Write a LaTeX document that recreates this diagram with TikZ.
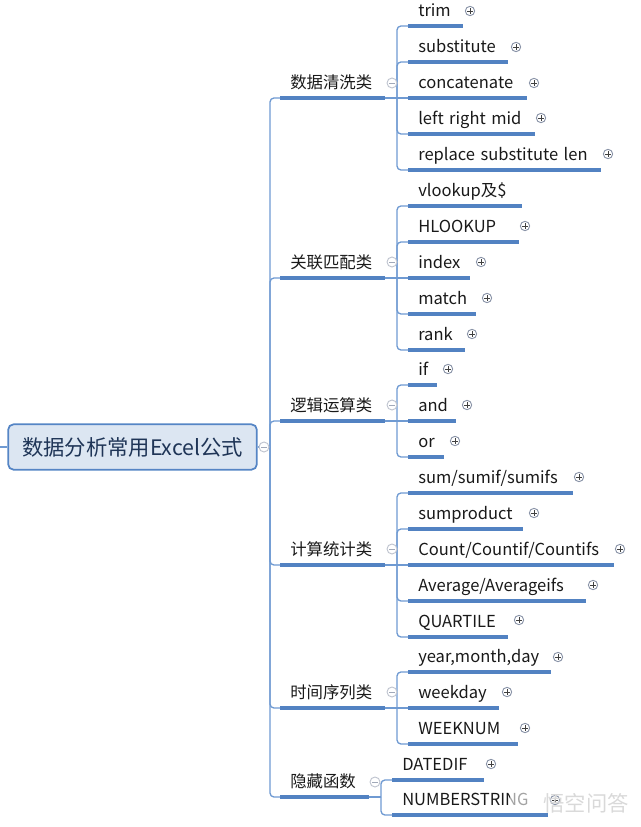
\documentclass[tikz,border=0pt]{standalone}
\usepackage{fontspec}
\setmainfont{Noto Sans CJK SC}
\definecolor{linkblue}{HTML}{6F9AD2}
\definecolor{barblue}{HTML}{5282C2}
\definecolor{rootfill}{HTML}{DCE6F2}
\definecolor{rootline}{HTML}{5585C5}
\definecolor{roottext}{HTML}{1F3557}
\definecolor{iconline}{HTML}{8A94A8}
\tikzset{
	link/.style={draw=linkblue, line width=1pt, rounded corners=3pt},
	bar/.style={draw=barblue, line width=2.4pt},
	root/.style={rectangle, rounded corners=4pt, draw=rootline, line width=1.3pt, fill=rootfill, text=roottext, font=\fontsize{16}{18}\selectfont, minimum width=186.5pt, minimum height=34pt, inner sep=0pt},
	under/.style={anchor=south west, inner xsep=0pt, inner ysep=0pt, text depth=7.2pt, text height=11pt, align=left, text=black!90, execute at begin node={\hspace*{7.5pt}}, append after command={(\tikzlastnode.south west) edge[bar] (\tikzlastnode.south east)}},
	leaf/.style={under, text width=#1*0.75pt, font=\fontsize{12.4}{14}\selectfont},
	cat/.style={under, text width=#1*0.75pt, font=\fontsize{12.3}{14}\selectfont},
	plus/.style={circle, draw=iconline, line width=0.7pt, fill=white, inner sep=0pt, minimum size=7pt, path picture={\draw [black!75, line width=0.5pt] ([xshift=-2pt]path picture bounding box.center) -- ([xshift=2pt]path picture bounding box.center) ([yshift=-2pt]path picture bounding box.center) -- ([yshift=2pt]path picture bounding box.center);}},
	minus/.style={circle, draw=iconline!55, line width=0.7pt, fill=white, inner sep=0pt, minimum size=7.5pt, path picture={\draw [iconline!80, line width=0.5pt] ([xshift=-2pt]path picture bounding box.center) -- ([xshift=2pt]path picture bounding box.center);}}
}
\begin{document}
\begin{tikzpicture}[x=0.75pt, y=-0.75pt]
	\useasboundingbox (0,0) rectangle (640,827);
	% centre
	\node at (132.5,447) [root] (r0) {数据分析常用Excel公式};
	\coordinate (stub) at (0,447);
	\coordinate (trunk) at (270,447);
	% first level
	\node at (280,98) [cat=104] (c1) {数据清洗类};
	\node at (280,278) [cat=104] (c2) {关联匹配类};
	\node at (280,421) [cat=104] (c3) {逻辑运算类};
	\node at (280,565) [cat=104] (c4) {计算统计类};
	\node at (280,708) [cat=104] (c5) {时间序列类};
	\node at (280,797) [cat=88] (c6) {隐藏函数};
	% data cleaning
	\node at (408,26) [leaf=54] (c1a) {trim};
	\node at (408,62) [leaf=99] (c1b) {substitute};
	\node at (408,98) [leaf=118] (c1c) {concatenate};
	\node at (408,134) [leaf=126] (c1d) {left right mid};
	\node at (408,170) [leaf=192] (c1e) {replace substitute len};
	% lookup
	\node at (408,206) [leaf=113] (c2a) {vlookup及\$};
	\node at (408,242) [leaf=110] (c2b) {HLOOKUP};
	\node at (408,278) [leaf=61] (c2c) {index};
	\node at (408,314) [leaf=67] (c2d) {match};
	\node at (408,350) [leaf=56] (c2e) {rank};
	% logic
	\node at (408,385) [leaf=28] (c3a) {if};
	\node at (408,421) [leaf=47] (c3b) {and};
	\node at (408,457) [leaf=35] (c3c) {or};
	% statistics
	\node at (408,493) [leaf=164] (c4a) {sum/sumif/sumifs};
	\node at (408,529) [leaf=114] (c4b) {sumproduct};
	\node at (408,565) [leaf=205] (c4c) {Count/Countif/Countifs};
	\node at (408,601) [leaf=177] (c4d) {Average/Averageifs};
	\node at (408,637) [leaf=99] (c4e) {QUARTILE};
	% time
	\node at (408,672) [leaf=142] (c5a) {year,month,day};
	\node at (408,708) [leaf=90] (c5b) {weekday};
	\node at (408,744) [leaf=109] (c5c) {WEEKNUM};
	% hidden
	\node at (392,780) [leaf=91] (c6a) {DATEDIF};
	\node at (392,815) [leaf=155] (c6b) {NUMBERSTRING};
	% connectors
	\draw [link] (stub) -- (r0.west);
	\draw [link] (r0.east) -- (trunk);
	\draw [link] (trunk) |- (c1.south west);
	\draw [link] (trunk) |- (c2.south west);
	\draw [link] (trunk) |- (c3.south west);
	\draw [link] (trunk) |- (c4.south west);
	\draw [link] (trunk) |- (c5.south west);
	\draw [link] (trunk) |- (c6.south west);
	\coordinate (h1) at (397,98);
	\coordinate (h2) at (397,278);
	\coordinate (h3) at (397,421);
	\coordinate (h4) at (397,565);
	\coordinate (h5) at (397,708);
	\coordinate (h6) at (381,797);
	\draw [link] (c1.south east) -- (c1c.south west);
	\draw [link] (h1) |- (c1a.south west);
	\draw [link] (h1) |- (c1b.south west);
	\draw [link] (h1) |- (c1d.south west);
	\draw [link] (h1) |- (c1e.south west);
	\draw [link] (c2.south east) -- (c2c.south west);
	\draw [link] (h2) |- (c2a.south west);
	\draw [link] (h2) |- (c2b.south west);
	\draw [link] (h2) |- (c2d.south west);
	\draw [link] (h2) |- (c2e.south west);
	\draw [link] (c3.south east) -- (c3b.south west);
	\draw [link] (h3) |- (c3a.south west);
	\draw [link] (h3) |- (c3c.south west);
	\draw [link] (c4.south east) -- (c4c.south west);
	\draw [link] (h4) |- (c4a.south west);
	\draw [link] (h4) |- (c4b.south west);
	\draw [link] (h4) |- (c4d.south west);
	\draw [link] (h4) |- (c4e.south west);
	\draw [link] (c5.south east) -- (c5b.south west);
	\draw [link] (h5) |- (c5a.south west);
	\draw [link] (h5) |- (c5c.south west);
	\draw [link] (c6.south east) -- (h6);
	\draw [link] (h6) |- (c6a.south west);
	\draw [link] (h6) |- (c6b.south west);
	% collapse marks
	\node at (264,447) [minus] (m0) {};
	\node at (392,83) [minus] (m1) {};
	\node at (392,262) [minus] (m2) {};
	\node at (392,405) [minus] (m3) {};
	\node at (392,549) [minus] (m4) {};
	\node at (392,692) [minus] (m5) {};
	\node at (375,782) [minus] (m6) {};
	% expand marks
	\node at (470,11) [plus] (p1a) {};
	\node at (516,47) [plus] (p1b) {};
	\node at (534,83) [plus] (p1c) {};
	\node at (541,118) [plus] (p1d) {};
	\node at (608,154) [plus] (p1e) {};
	\node at (525,226) [plus] (p2b) {};
	\node at (481,262) [plus] (p2c) {};
	\node at (487,298) [plus] (p2d) {};
	\node at (472,334) [plus] (p2e) {};
	\node at (448,369) [plus] (p3a) {};
	\node at (467,405) [plus] (p3b) {};
	\node at (455,441) [plus] (p3c) {};
	\node at (579,477) [plus] (p4a) {};
	\node at (534,513) [plus] (p4b) {};
	\node at (620,549) [plus] (p4c) {};
	\node at (593,585) [plus] (p4d) {};
	\node at (519,620) [plus] (p4e) {};
	\node at (558,657) [plus] (p5a) {};
	\node at (507,692) [plus] (p5b) {};
	\node at (525,728) [plus] (p5c) {};
	\node at (491,764) [plus] (p6a) {};
	\node at (555,800) [plus] (p6b) {};
	% watermark
	\node at (523,801) [fill=white, fill opacity=0.6, minimum width=20pt, minimum height=14pt, inner sep=0pt] (w1) {};
	\node at (586,803) [text=black!15, font=\fontsize{16}{16}\selectfont, inner sep=0pt] (w0) {悟空问答};
\end{tikzpicture}
\end{document}
